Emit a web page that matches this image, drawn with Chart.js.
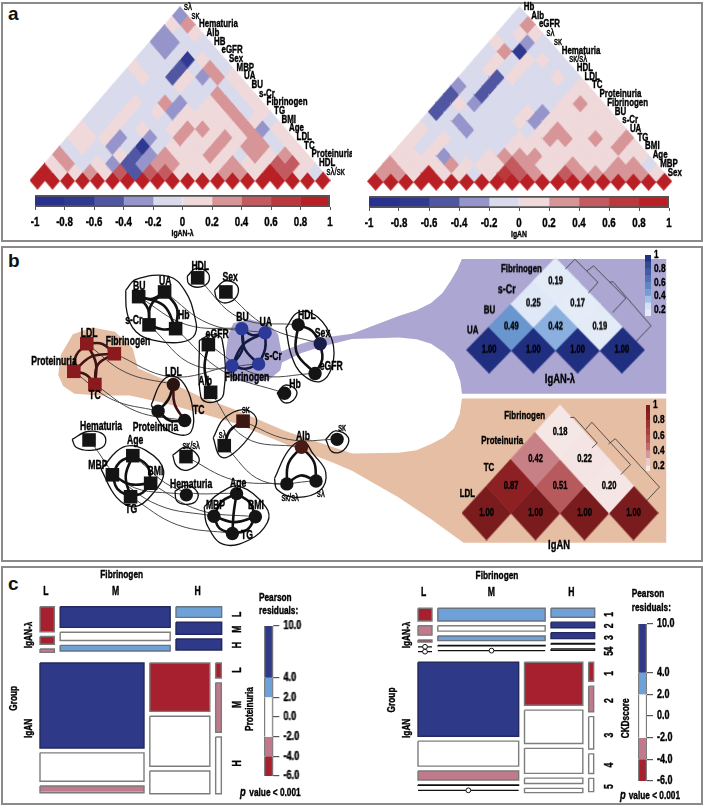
<!DOCTYPE html>
<html>
<head>
<meta charset="utf-8">
<style>
html, body { margin: 0; padding: 0; background: #fff; }
#page { position: relative; width: 705px; height: 807px; overflow: hidden; background: #fff; }
#page canvas { position: absolute; }
.frame { position: absolute; border: 2px solid #8a8a8a; box-sizing: border-box; }
.tag { position: absolute; font: bold 19px "Liberation Sans", Arial, sans-serif; color: #111; }
</style>
</head>
<body>
<div id="page">
  <div class="frame" style="left:1px;top:2px;width:702px;height:240px"></div>
  <div class="frame" style="left:1px;top:246px;width:702px;height:316px"></div>
  <div class="frame" style="left:1px;top:566px;width:702px;height:239px"></div>
  <div class="tag" style="left:8px;top:3px">a</div>
  <div class="tag" style="left:8px;top:250px">b</div>
  <div class="tag" style="left:8px;top:573px">c</div>
</div>
<script src="https://cdn.jsdelivr.net/npm/chart.js@4/dist/chart.umd.min.js"></script>
<script>
// panel a: correlation heatmaps, rows go from the diagonal (row 0) up to the apex
const corrLeftNames = ['sλ', 'sκ', 'Hematuria', 'Alb', 'HB', 'eGFR', 'Sex', 'MBP', 'UA', 'BU', 's-Cr', 'Fibrinogen', 'TG', 'BMI', 'Age', 'LDL', 'TC', 'Proteinuria', 'HDL', 'sλ/sκ'];
const corrRightNames = ['Hb', 'Alb', 'eGFR', 'sλ', 'sκ', 'Hematuria', 'sκ/sλ', 'HDL', 'LDL', 'TC', 'Proteinuria', 'Fibrinogen', 'BU', 's-Cr', 'UA', 'TG', 'BMI', 'Age', 'MBP', 'Sex'];
const corrLeftRows = [
    [1, 1, 1, 1, 1, 1, 1, 1, 1, 1, 1, 1, 1, 1, 1, 1, 1, 1, 1, 1],
    [.9, .1, .1, .3, .1, .5, -.5, .5, .5, .1, .1, .1, .3, .3, .1, .9, .5, .1, -.1],
    [.1, .3, -.1, .1, -.3, -.5, -.3, .3, .3, .1, .1, .1, .3, .1, .1, .5, .5, .1],
    [.3, -.1, -.1, -.1, .1, -.5, -.3, .3, .1, .1, .3, .1, -.1, .3, .1, .3, .1],
    [-.1, .1, -.1, -.3, -.1, -.7, -.1, .1, .1, .1, .3, .1, .3, .3, -.1, .1],
    [.1, .1, .1, -.3, -.1, -.3, -.1, .3, .1, .1, .3, .1, .3, -.1, .1],
    [.1, -.1, .1, -.1, .1, -.1, .1, .3, .3, .1, .1, .3, -.3, .1],
    [-.1, -.1, .1, -.1, -.1, -.1, .1, .1, .1, .1, .3, .1, -.1],
    [-.1, -.1, .1, -.1, .1, -.3, .1, .1, .1, .3, -.1, .1],
    [-.1, -.1, .1, -.1, .3, -.3, -.1, .1, .3, -.1, .1],
    [-.1, -.1, -.1, -.1, -.1, -.1, -.1, .3, -.1, .1],
    [-.1, -.1, -.1, -.1, .1, -.1, -.1, -.1, .1],
    [-.1, .1, -.1, -.5, .1, -.3, .3, .1],
    [.1, -.1, -.1, -.5, -.1, .3, -.1],
    [-.1, -.1, -.1, -.7, .1, -.1],
    [-.1, -.3, -.1, -.1, -.1],
    [-.3, -.3, -.1, -.1],
    [-.3, -.1, .1],
    [.1, .3],
    [-.3]
];
const corrRightRows = [
    [1, 1, 1, 1, 1, 1, 1, 1, 1, 1, 1, 1, 1, 1, 1, 1, 1, 1, 1, 1],
    [.3, .3, .1, .9, .1, .1, -.1, .1, .7, .5, .3, .1, .5, .3, .3, .3, .3, .3, .1],
    [.3, .1, .1, .1, .3, .1, .1, .1, .5, .3, .1, .1, .3, .1, .1, .3, .3, -.1],
    [.1, .1, .1, -.3, -.1, -.1, .1, .3, .3, .3, .1, .1, .1, .1, .1, .1, .1],
    [.1, -.1, .1, -.1, -.1, -.1, -.1, .1, .1, .1, .1, .1, .1, .1, .3, .1],
    [.1, -.1, .1, -.1, -.1, -.1, -.1, .1, .1, .3, .3, .1, .3, .1, .3],
    [.1, -.1, -.1, -.3, -.1, -.1, -.1, -.1, .1, .3, .1, .1, .1, .1],
    [-.1, -.1, -.3, -.1, -.1, -.1, .1, -.3, .1, .1, .1, .1, .1],
    [-.5, -.1, -.1, -.1, -.1, -.1, .1, -.3, .1, .1, .1, .1],
    [-.5, .1, -.3, -.1, -.1, -.1, -.1, -.1, .1, .3, .1],
    [-.5, -.1, -.5, -.1, -.1, -.1, -.1, -.1, .1, .1],
    [-.3, -.1, -.5, -.1, -.1, -.1, -.1, -.1, .1],
    [-.1, -.1, -.5, .1, -.1, -.1, .1, -.1],
    [-.1, .1, -.1, .1, -.1, -.1, -.1],
    [-.1, .1, -.1, .1, .1, -.1],
    [-.1, .3, -.7, -.1, -.1],
    [.1, -.1, -.3, -.1],
    [-.1, .1, .1],
    [-.1, .3],
    [-.1]
];
const corrBins = [-1, -.8, -.6, -.4, -.2, 0, .2, .4, .6, .8, 1];
const corrColors = ['#2a308e', '#30388f', '#5156a3', '#9695cb', '#d9daec', '#efd9da', '#d79598', '#c35a5f', '#bb383c', '#b92025'];
const corrTickLabels = ['-1', '-0.8', '-0.6', '-0.4', '-0.2', '0', '0.2', '0.4', '0.6', '0.8', '1'];

// panel b: co-expression networks, layout units
const netNames = ['BU', 'UA', 's-Cr', 'Hb', 'HDL', 'Sex', 'eGFR', 'Alb', 'LDL', 'Fibrinogen', 'Proteinuria', 'TC', 'sκ', 'sλ', 'Hematuria', 'Age', 'MBP', 'BMI', 'TG', 'sκ/sλ'];
const squareX = [398, 478, 430, 512, 580, 667, 613, 620, 238, 323, 198, 263, 720, 662, 245, 380, 317, 435, 373, 544];
const squareY = [150, 135, 240, 252, 90, 135, 303, 455, 300, 332, 388, 430, 547, 625, 607, 657, 718, 745, 788, 660];
const squareLabelX = [400, 480, 383, 537, 588, 680, 640, 603, 245, 365, 137, 263, 728, 657, 282, 387, 272, 450, 375, 560];
const squareLabelY = [117, 103, 228, 212, 53, 88, 270, 420, 267, 295, 358, 465, 513, 590, 565, 610, 688, 707, 830, 628];
const circleX = [716, 788, 768, 848, 890, 958, 942, 900, 505, 686, 458, 540, 1010, 945, 545, 700, 630, 758, 687, 855];
const circleY = [252, 265, 365, 458, 240, 300, 395, 630, 430, 370, 515, 545, 605, 738, 782, 778, 850, 852, 905, 747];
const circleLabelX = [718, 790, 813, 880, 917, 965, 992, 905, 505, 732, 450, 583, 1025, 960, 560, 705, 635, 760, 732, 865];
const circleLabelY = [218, 232, 340, 432, 212, 268, 373, 595, 393, 408, 567, 515, 570, 780, 748, 747, 815, 818, 912, 792];
const thinBends = [.12, .12, .2, .1, .17, .1, .15, .2, .1, .15, .1, .1, .1, .2, .18, .15, .1, .1, .1, .1];
const squareEdges = [[0, 1, .18], [0, 2, -.15], [0, 3, -.2], [1, 2, .18], [1, 3, -.18], [2, 3, .1], [6, 7, .1], [8, 9, -.18], [8, 10, .15], [8, 11, -.12], [9, 10, .15], [9, 11, .22], [10, 11, -.15], [12, 13, .15], [15, 16, .15], [15, 17, -.2], [15, 18, .14], [16, 17, .14], [16, 18, .18], [17, 18, -.14]];
const circleEdges = [[0, 1, .2], [0, 9, -.15], [0, 2, .15], [1, 9, .15], [1, 2, -.1], [9, 2, .15], [4, 5, -.15], [4, 6, .2], [5, 6, -.15], [8, 10, -.1], [8, 11, .12], [10, 11, .18], [15, 16, .15], [15, 17, -.15], [15, 18, .02], [16, 17, .14], [16, 18, .2], [17, 18, -.2], [7, 19, .15], [7, 13, -.15], [19, 13, -.25]];
const hulls = [
    [[358, 130], [390, 95], [490, 85], [540, 130], [570, 210], [572, 270], [530, 295], [450, 290], [390, 262], [362, 200]],
    [[548, 85], [575, 60], [612, 75], [612, 105], [580, 120], [552, 108]],
    [[632, 130], [665, 100], [702, 115], [700, 150], [668, 170], [640, 158]],
    [[585, 290], [620, 272], [655, 285], [660, 460], [625, 487], [590, 470]],
    [[852, 250], [890, 200], [950, 215], [995, 290], [995, 370], [960, 420], [905, 400], [870, 340]],
    [[825, 458], [850, 432], [885, 450], [875, 480], [845, 487]],
    [[437, 495], [470, 420], [510, 405], [545, 440], [565, 510], [560, 580], [520, 590], [470, 560]],
    [[628, 600], [660, 540], [720, 510], [760, 535], [750, 580], [690, 650], [650, 660]],
    [[193, 605], [240, 580], [290, 590], [292, 625], [250, 640], [205, 630]],
    [[282, 700], [350, 630], [420, 640], [475, 705], [440, 780], [385, 820], [330, 790]],
    [[503, 655], [545, 630], [585, 670], [550, 703], [515, 690]],
    [[510, 770], [545, 752], [580, 775], [572, 805], [540, 812], [515, 800]],
    [[600, 820], [650, 775], [710, 755], [790, 820], [795, 870], [740, 925], [660, 940], [610, 880]],
    [[817, 730], [860, 640], [905, 610], [935, 650], [975, 710], [955, 770], [880, 790], [825, 765]],
    [[975, 605], [1005, 578], [1045, 600], [1030, 640], [995, 645]]
];
const purpleShape = [[690, 235], [740, 222], [800, 240], [828, 270], [838, 325], [900, 300], [960, 282], [1056, 268], [1200, 212], [1255, 193], [1300, 170], [1335, 138], [1360, 100], [1380, 65], [1395, 30], [2025, 30], [2025, 460], [1395, 460], [1390, 420], [1370, 360], [1340, 328], [1300, 300], [1255, 286], [1200, 280], [1056, 285], [960, 310], [900, 330], [840, 360], [835, 385], [800, 415], [740, 425], [690, 415], [665, 395], [668, 320], [675, 270]];
const orangeShape = [[150, 400], [158, 335], [195, 270], [255, 248], [325, 262], [380, 315], [396, 378], [500, 425], [590, 470], [700, 512], [850, 578], [1056, 650], [1200, 648], [1255, 640], [1300, 620], [1340, 598], [1370, 570], [1388, 525], [1395, 475], [2025, 475], [2025, 935], [1400, 935], [1300, 860], [1200, 790], [1056, 705], [1000, 680], [850, 620], [700, 555], [600, 525], [480, 490], [370, 465], [280, 465], [200, 460], [165, 435]];

// panel b insets
const insetPurpleNames = ['UA', 'BU', 'Fibrinogen'];
const insetPurpleRows = [[1, 1, 1, 1], [.49, .42, .19], [.25, .17], [.19]];
const insetPurpleTree = [
    [[2.22, 3.52], [2.44, 3.95], [2.96, 2.94], [2.74, 2.47]],
    [[2.71, 3.44], [2.86, 3.66], [3.59, 2.25], [3.29, 1.63]],
    [[3.22, 2.94], [3.3, 2.97], [4.16, 1.05], [3.78, .29]]
];
const insetOrangeNames = ['LDL', 'TC', 'Proteinuria', 'Fibrinogen'];
const insetOrangeRows = [[1, 1, 1, 1], [.87, .51, .2], [.42, .22], [.18]];
const insetOrangeTree = [
    [[2.21, 3.54], [2.29, 3.54], [2.76, 2.59], [2.65, 2.41]],
    [[2.52, 3.09], [2.65, 3.36], [3.44, 1.79], [3.24, 1.42]],
    [[2.99, 2.56], [3.13, 2.75], [4.03, .96], [3.74, .4]]
];
const insetBlueStops = [[0, '#ffffff'], [.17, '#e4ecf7'], [.25, '#dfe8f6'], [.42, '#8bb0df'], [.49, '#6a96d0'], [1, '#1f2e7f']];
const insetRedStops = [[0, '#ffffff'], [.18, '#f5e7e6'], [.22, '#f4e4e3'], [.42, '#c78085'], [.51, '#b75a5e'], [.87, '#8d2022'], [1, '#7a1b1e']];
const insetBarSteps = [.1, .2, .3, .4, .5, .6, .7, .8, .9, 1];
const insetTicks = [.2, .4, .6, .8, 1];
const insetTickLabels = ['0.2', '0.4', '0.6', '0.8', '1'];

// panel c: mosaics, column widths then cell heights for each group
const mosaicLeftWidths = [[43, 330, 137], [312, 180, 17]];
const mosaicLeftHeights = [
    [[75, 23, 10], [62, 25, 17], [32, 36, 33]],
    [[255, 85, 20], [145, 150, 68], [45, 148, 170]]
];
const mosaicLeftResiduals = [
    [[-5, -5, -3], [8, 0, 3], [3, 8, 8]],
    [[8, 0, -3], [-5, 0, 0], [-5, -3, 0]]
];
const mosaicRightWidths = [[42, 322, 131], [302, 175, 15]];
const mosaicRightHeights = [
    [[38, 28, 6, 0, 0], [38, 16, 14, 1, 0], [27, 17, 18, 2, 4]],
    [[222, 75, 27, 2, 0], [129, 100, 75, 16, 13], [57, 77, 97, 59, 40]]
];
const mosaicRightResiduals = [
    [[-5, -3, -5, 0, 0], [3, 0, 3, 0, 0], [3, 8, 8, 0, 0]],
    [[8, 0, -3, 0, 0], [-5, 0, 0, 0, 0], [-5, -3, 0, 0, 0]]
];
const residualEdges = [10, 4, 2, -2, -4, -6];
const residualColors = ['#2e3a87', '#6ea1d8', '#ffffff', '#c07a8c', '#a6202f'];
const residualTicks = [10, 4, 2, 0, -2, -4, -6];
const residualTickLabels = ['10.0', '4.0', '2.0', '0.0', '-2.0', '-4.0', '-6.0'];

const SANS = '"Liberation Sans", Arial, sans-serif';
const SQUEEZE = .72; // the source type is a condensed grotesque
const page = document.getElementById('page');

Chart.defaults.animation = false;
Chart.defaults.responsive = false;
Chart.defaults.plugins.legend.display = false;
Chart.defaults.plugins.tooltip.enabled = false;
Chart.defaults.font.family = SANS;
Chart.defaults.color = '#111';

function addChart(left, top, width, height, config) {
    const canvas = document.createElement('canvas');
    canvas.width = width;
    canvas.height = height;
    canvas.style.left = left + 'px';
    canvas.style.top = top + 'px';
    canvas.style.width = width + 'px';
    canvas.style.height = height + 'px';
    page.appendChild(canvas);
    return new Chart(canvas.getContext('2d'), config);
}

function putText(ctx, label, px, py, g) {
    ctx.save();
    ctx.font = (g.style || 'bold') + ' ' + (g.size || 11) + 'px ' + SANS;
    ctx.textAlign = g.align || 'center';
    ctx.textBaseline = 'middle';
    ctx.fillStyle = g.color || '#000';
    ctx.strokeStyle = g.color || '#000';
    ctx.lineWidth = .4;
    ctx.lineJoin = 'round';
    ctx.translate(px, py);
    if (g.rot) ctx.rotate(g.rot);
    ctx.scale(SQUEEZE, 1);
    ctx.strokeText(label, 0, 0);
    ctx.fillText(label, 0, 0);
    ctx.restore();
}

// draws groups of real text at scale positions
function textLayer(groups) {
    return {
        id: 'textLayer',
        afterDatasetsDraw(chart) {
            const { ctx, scales } = chart;
            groups.forEach(g => {
                g.labels.forEach((label, i) => {
                    putText(ctx, label, scales.x.getPixelForValue(g.x[i]), scales.y.getPixelForValue(g.y[i]), g);
                });
            });
        }
    };
}

// condensed tick labels
function tickText(axis, labels, size, offset, title) {
    return {
        id: 'tickText',
        afterDatasetsDraw(chart) {
            const { ctx } = chart;
            const s = chart.scales[axis];
            labels.forEach((label, i) => {
                const at = s.getPixelForTick(i);
                if (axis === 'x') putText(ctx, label, at, s.top + offset, { size });
                else putText(ctx, label, s.left + offset, at, { size, align: 'left' });
            });
            if (title) putText(ctx, title, (s.left + s.right) / 2, s.top + offset + 11, { size: 9.5 });
        }
    };
}

const diamondCache = {};
function diamond(color, w, h) {
    const key = color + w + h;
    if (diamondCache[key]) return diamondCache[key];
    const c = document.createElement('canvas');
    c.width = Math.ceil(w + 1);
    c.height = Math.ceil(h + 1);
    const g = c.getContext('2d');
    g.fillStyle = color;
    g.beginPath();
    g.moveTo(c.width / 2, 0);
    g.lineTo(c.width, c.height / 2);
    g.lineTo(c.width / 2, c.height);
    g.lineTo(0, c.height / 2);
    g.closePath();
    g.fill();
    diamondCache[key] = c;
    return c;
}

function rowsToCells(rows) {
    const cells = [];
    rows.forEach((row, r) => row.forEach((v, c) => cells.push({ x: c + r / 2 + .5, y: r, v })));
    return cells;
}

function hiddenAxes(xMin, xMax, yMin, yMax, reverse) {
    return {
        x: { type: 'linear', display: false, min: xMin, max: xMax },
        y: { type: 'linear', display: false, min: yMin, max: yMax, reverse: !!reverse }
    };
}

function corrColor(v) {
    const i = Math.min(corrColors.length - 1, Math.floor((v + 1) / .2 + 1e-6));
    return corrColors[i];
}

function drawCorrHeat(left, top, width, height, plot, rows, names) {
    const n = names.length;
    const cw = plot.w / n, ch = plot.h / (n + 1) * 2;
    const greek = l => l === 'sλ' || l === 'sκ' || l === 'sλ/sκ' || l === 'sκ/sλ';
    const at = names.map((_, i) => i + (n - 1 - i) / 2 + .5 + .27);
    const rowAt = names.map((_, i) => n - i);
    const pick = (arr, keep) => arr.filter((_, i) => keep(greek(names[i])));
    addChart(left, top, width, height, {
        type: 'scatter',
        data: { datasets: [{ data: rowsToCells(rows), clip: false, pointStyle: ctx => diamond(corrColor(ctx.raw.v), cw, ch) }] },
        options: {
            layout: { padding: { left: plot.l, top: plot.t, right: width - plot.l - plot.w, bottom: height - plot.t - plot.h } },
            scales: hiddenAxes(0, n, -1, n)
        },
        plugins: [textLayer([
            { labels: pick(names, g => !g), x: pick(at, g => !g), y: pick(rowAt, g => !g), size: 11, align: 'left' },
            { labels: pick(names, g => g), x: pick(at, g => g), y: pick(rowAt, g => g), size: 11, align: 'left', style: 'normal' }
        ])]
    });
}

function drawCorrBar(left, top, width, height, padLeft, padRight, title) {
    const datasets = [{ data: [[-1, 1]], backgroundColor: 'rgba(0,0,0,0)', borderColor: '#555', borderWidth: 1.5, grouped: false, barPercentage: 1, categoryPercentage: 1 }];
    corrColors.forEach((color, i) => {
        datasets.push({ data: [[corrBins[i], corrBins[i + 1]]], backgroundColor: color, grouped: false, barPercentage: 1, categoryPercentage: 1 });
    });
    addChart(left, top, width, height, {
        type: 'bar',
        data: { labels: [''], datasets },
        options: {
            indexAxis: 'y',
            layout: { padding: { left: padLeft, right: padRight, top: 5, bottom: 0 } },
            scales: {
                y: { display: false },
                x: {
                    type: 'linear', min: -1, max: 1,
                    afterBuildTicks: s => { s.ticks = corrBins.map(value => ({ value })); },
                    afterFit: s => { s.height = 33; s.paddingLeft = 0; s.paddingRight = 0; },
                    grid: { drawOnChartArea: false, color: '#555', tickLength: 3 },
                    border: { display: false },
                    ticks: { display: false }
                }
            }
        },
        plugins: [tickText('x', corrTickLabels, 13.5, 15, title)]
    });
}

function lineDs(points, opts) {
    return Object.assign({ data: points.map(p => ({ x: p[0], y: p[1] })), showLine: true, pointRadius: 0, borderWidth: 1, borderColor: '#111', backgroundColor: 'rgba(0,0,0,0)', fill: false, tension: 0, clip: false }, opts);
}

function curve(a, b, bend) {
    const mx = (a[0] + b[0]) / 2, my = (a[1] + b[1]) / 2;
    return [a, [mx - (b[1] - a[1]) * bend, my + (b[0] - a[0]) * bend], b];
}

// painter's order: later entries end up on top
function stacked(list) {
    list.forEach((d, i) => { d.order = list.length - i; });
    return list;
}

function drawNetworks() {
    const sq = squareX.map((x, i) => [x, squareY[i]]);
    const ci = circleX.map((x, i) => [x, circleY[i]]);
    const list = [
        lineDs(purpleShape.concat([purpleShape[0]]), { fill: 'shape', backgroundColor: '#aba6d2', borderWidth: 0, borderColor: '#aba6d2' }),
        lineDs(orangeShape.concat([orangeShape[0]]), { fill: 'shape', backgroundColor: '#e6bea4', borderWidth: 0, borderColor: '#e6bea4' })
    ];
    netNames.forEach((_, i) => {
        list.push(lineDs(curve(sq[i], ci[i], thinBends[i]), { tension: .4, borderColor: '#4a4a4a', borderWidth: 1 }));
    });
    hulls.forEach(h => {
        list.push(lineDs(h.concat([h[0]]), { tension: .4, borderColor: '#111', borderWidth: 1.3 }));
    });
    squareEdges.forEach(e => {
        const dark = e[0] >= 8 && e[0] <= 11;
        list.push(lineDs(curve(sq[e[0]], sq[e[1]], e[2]), { tension: .4, borderColor: dark ? '#3f1214' : '#111', borderWidth: 2.6 }));
    });
    circleEdges.forEach(e => {
        const navy = e[0] < 2 || e[0] === 9;
        const maroon = e[0] === 8;
        list.push(lineDs(curve(ci[e[0]], ci[e[1]], e[2]), { tension: .4, borderColor: navy ? '#141a44' : maroon && e[1] !== 10 ? '#3f1214' : '#111', borderWidth: 2.6 }));
    });
    const squareColor = i => (i >= 8 && i <= 11 ? '#8b1a1f' : i === 12 ? '#3a1712' : '#141414');
    const circleColor = i => ([0, 1, 2, 9].includes(i) ? '#2b3a98' : i === 5 ? '#191d4a' : i === 7 ? '#4a1a14' : i === 8 ? '#2a1510' : '#141414');
    list.push({ data: sq.map(p => ({ x: p[0], y: p[1] })), pointStyle: 'rect', pointRadius: 9.6, pointBackgroundColor: sq.map((_, i) => squareColor(i)), pointBorderWidth: 0, showLine: false, clip: false });
    list.push({ data: ci.map(p => ({ x: p[0], y: p[1] })), pointStyle: 'circle', pointRadius: 6.7, pointBackgroundColor: ci.map((_, i) => circleColor(i)), pointBorderWidth: 0, showLine: false, clip: false });
    const thin = l => l === 'sκ' || l === 'sλ' || l === 'sκ/sλ';
    const pick = (arr, keep) => arr.filter((_, i) => keep(netNames[i]));
    const plain = l => !thin(l);
    addChart(0, 240, 705, 325, {
        type: 'scatter',
        data: { datasets: stacked(list) },
        options: { scales: hiddenAxes(0, 2115, 0, 975, true) },
        plugins: [textLayer([
            { labels: pick(netNames, plain), x: pick(squareLabelX, plain), y: pick(squareLabelY, plain), size: 12 },
            { labels: pick(netNames, plain), x: pick(circleLabelX, plain), y: pick(circleLabelY, plain), size: 12 },
            { labels: pick(netNames, thin), x: pick(squareLabelX, thin), y: pick(squareLabelY, thin), size: 10.5, style: 'normal' },
            { labels: pick(netNames, thin), x: pick(circleLabelX, thin), y: pick(circleLabelY, thin), size: 10.5, style: 'normal' }
        ])]
    });
}

function stopColor(stops, v) {
    for (let i = 1; i < stops.length; i++) {
        if (v <= stops[i][0]) {
            const [v0, c0] = stops[i - 1], [v1, c1] = stops[i];
            const t = (v - v0) / (v1 - v0);
            const ch = (c, k) => parseInt(c.slice(1 + k * 2, 3 + k * 2), 16);
            return 'rgb(' + [0, 1, 2].map(k => Math.round(ch(c0, k) + (ch(c1, k) - ch(c0, k)) * t)).join(',') + ')';
        }
    }
    return stops[stops.length - 1][1];
}

function drawInset(box, rows, tree, stops, groups) {
    const cw = box.w / 4, ch = box.h / 5 * 2;
    const cells = rowsToCells(rows);
    const trees = tree.map(t => lineDs(t, { borderColor: '#333', borderWidth: .8 }));
    const heat = { data: cells, clip: false, pointStyle: ctx => diamond(stopColor(stops, ctx.raw.v), cw, ch) };
    addChart(box.l - 30, box.t - 10, box.w + 60, box.h + 30, {
        type: 'scatter',
        data: { datasets: stacked([heat].concat(trees)) },
        options: {
            layout: { padding: { left: 30, right: 30, top: 10, bottom: 20 } },
            scales: hiddenAxes(0, 4, -1, 4)
        },
        plugins: [textLayer(groups.concat([{
            labels: cells.map(c => c.v.toFixed(2)),
            x: cells.map(c => c.x), y: cells.map(c => c.y), size: 10.5
        }]))]
    });
}

function drawInsetBar(left, top, height, width, stops, bottom) {
    const steps = insetBarSteps.filter(v => v > bottom);
    const datasets = steps.map((v, i) => ({
        data: [[i === 0 ? bottom : steps[i - 1], v]],
        backgroundColor: stopColor(stops, v - .03), grouped: false, barPercentage: 1, categoryPercentage: 1
    }));
    addChart(left, top - 6, width + 30, height + 12, {
        type: 'bar',
        data: { labels: [''], datasets },
        options: {
            layout: { padding: { top: 6, bottom: 6, left: 0, right: 0 } },
            scales: {
                x: { display: false },
                y: {
                    type: 'linear', position: 'right', min: bottom, max: 1,
                    afterBuildTicks: s => { s.ticks = insetTicks.map(value => ({ value })); },
                    afterFit: s => { s.width = 30; s.paddingTop = 0; s.paddingBottom = 0; },
                    grid: { display: false },
                    border: { display: false },
                    ticks: { display: false }
                }
            }
        },
        plugins: [tickText('y', insetTickLabels, 11.5, 3)]
    });
}

function mosaicTiles(widths, heights, residuals) {
    const tiles = [];
    let top = 0;
    widths.forEach((row, g) => {
        let left = 0, groupH = 0;
        row.forEach((w, f) => {
            let y = top;
            heights[g][f].forEach((h, p) => {
                tiles.push({ x0: left, x1: left + w, y0: y, y1: y + h, res: residuals[g][f][p] });
                y += h + 14.5;
            });
            groupH = Math.max(groupH, y - 14.5 - top);
            left += w + 17.5;
        });
        top += groupH + 32;
    });
    return tiles;
}

function residualColor(r) {
    for (let i = 0; i < residualColors.length; i++) {
        if (r <= residualEdges[i] && r >= residualEdges[i + 1]) return residualColors[i];
    }
    return '#ffffff';
}

function drawMosaic(left, top, width, height, plot, tiles, span, groups) {
    const list = tiles.map(t => {
        const color = residualColor(t.res);
        const thinTile = t.y1 - t.y0 <= 4;
        const edge = thinTile ? '#111' : color === '#ffffff' ? '#7d7d7d' : color === '#2e3a87' ? '#23285f' : color === '#6ea1d8' ? '#6b7280' : '#7a7a7a';
        return lineDs([[t.x0, t.y0], [t.x1, t.y0], [t.x1, t.y1], [t.x0, t.y1], [t.x0, t.y0]], { fill: 'shape', backgroundColor: color, borderColor: edge, borderWidth: thinTile ? 1.2 : 1.4 });
    });
    const zeros = tiles.filter(t => t.y1 === t.y0);
    list.push({
        data: zeros.map(t => ({ x: (t.x0 + t.x1) / 2, y: t.y0 })), pointStyle: 'circle', pointRadius: 2.4,
        pointBackgroundColor: '#fff', pointBorderColor: '#111', pointBorderWidth: 1, showLine: false, clip: false
    });
    addChart(left, top, width, height, {
        type: 'scatter',
        data: { datasets: stacked(list) },
        options: {
            layout: { padding: { left: plot.l, top: plot.t, right: width - plot.l - plot.w, bottom: height - plot.t - plot.h } },
            scales: hiddenAxes(0, span.x, 0, span.y, true)
        },
        plugins: [textLayer(groups)]
    });
}

function drawResidualLegend(left, top, width, height, squeeze) {
    const squash = v => (v > 4 ? 4 + (v - 4) * squeeze : v);
    const datasets = residualColors.map((color, i) => ({
        data: [[squash(residualEdges[i + 1]), squash(residualEdges[i])]],
        backgroundColor: color, borderColor: '#7d7d7d', borderWidth: { left: 1.5, right: 1.5 },
        grouped: false, barPercentage: 1, categoryPercentage: 1, borderSkipped: false
    }));
    addChart(left, top - 6, width + 40, height + 12, {
        type: 'bar',
        data: { labels: [''], datasets },
        options: {
            layout: { padding: { top: 6, bottom: 6, left: 0, right: 0 } },
            scales: {
                x: { display: false },
                y: {
                    type: 'linear', position: 'right', min: -6, max: squash(10),
                    afterBuildTicks: s => { s.ticks = residualTicks.map(t => ({ value: squash(t) })); },
                    afterFit: s => { s.width = 40; s.paddingTop = 0; s.paddingBottom = 0; },
                    grid: { drawOnChartArea: false, color: '#555', tickLength: 6, lineWidth: 1.2 },
                    border: { display: false },
                    ticks: { display: false }
                }
            }
        },
        plugins: [tickText('y', residualTickLabels, 12.5, 10)]
    });
}

const UP = -Math.PI / 2;

// panel a
drawCorrHeat(0, 0, 352, 195, { l: 30, t: 7, w: 300, h: 182 }, corrLeftRows, corrLeftNames);
drawCorrBar(0, 190, 352, 50, 35, 22, 'IgAN-λ');
drawCorrHeat(352, 0, 353, 195, { l: 16, t: 7, w: 303.3, h: 184 }, corrRightRows, corrRightNames);
drawCorrBar(352, 191, 353, 50, 17, 36, 'IgAN');

// panel b
drawNetworks();
drawInset({ l: 467.3, t: 258, w: 177, h: 114.7 }, insetPurpleRows, insetPurpleTree, insetBlueStops, [
    { labels: insetPurpleNames, x: [.13, .51, 1.23], y: [.85, 1.72, 3.5], size: 11 },
    { labels: ['s-Cr'], x: [.9], y: [2.6], size: 12.5 },
    { labels: ['IgAN-λ'], x: [2.1], y: [-1.28], size: 13 }
]);
drawInsetBar(645, 255, 61, 6, insetBlueStops, .11);
drawInset({ l: 461.7, t: 405, w: 196, h: 135 }, insetOrangeRows, insetOrangeTree, insetRedStops, [
    { labels: insetOrangeNames, x: [.11, .55, .82, 1.28], y: [.7, 1.67, 2.67, 3.6], size: 11 },
    { labels: ['IgAN'], x: [1.98], y: [-1.2], size: 13 }
]);
drawInsetBar(645.5, 405, 66, 4, insetRedStops, .134);

// panel c
drawMosaic(0, 565, 352, 242, { l: 40, t: 41.7, w: 182, h: 185 },
    mosaicTiles(mosaicLeftWidths, mosaicLeftHeights, mosaicLeftResiduals), { x: 546, y: 555 }, [
    { labels: ['Fibrinogen'], x: [245], y: [-95], size: 11.5 },
    { labels: ['L', 'M', 'H'], x: [18, 227, 473], y: [-45, -45, -45], size: 12 },
    { labels: ['Pearson', 'residuals:'], x: [706, 716], y: [-28, 13], size: 11.5 },
    { labels: ['value < 0.001'], x: [628], y: [557], size: 11.5, align: 'left' },
    { labels: ['p'], x: [600], y: [557], size: 13, style: 'italic bold', align: 'left' },
    { labels: ['IgAN-λ', 'Group', 'IgAN'], x: [-35, -78, -35], y: [85, 275, 365], size: 11.5, rot: UP },
    { labels: ['L', 'M', 'H', 'L', 'M', 'H'], x: [592, 592, 592, 592, 592, 592], y: [23, 67, 115, 190, 293, 470], size: 12, rot: UP },
    { labels: ['Proteinuria'], x: [630], y: [307], size: 11.5, rot: UP }
]);
drawResidualLegend(264.3, 626, 9.7, 150, .875);

drawMosaic(352, 565, 353, 242, { l: 66, t: 43.3, w: 176, h: 184.7 },
    mosaicTiles(mosaicRightWidths, mosaicRightHeights, mosaicRightResiduals), { x: 528, y: 554 }, [
    { labels: ['Fibrinogen'], x: [237], y: [-97], size: 11.5 },
    { labels: ['L', 'M', 'H'], x: [17, 220, 460], y: [-47, -47, -47], size: 12 },
    { labels: ['Pearson', 'residuals:'], x: [690, 700], y: [-42, -2], size: 11.5 },
    { labels: ['value < 0.001'], x: [632], y: [562], size: 11.5, align: 'left' },
    { labels: ['p'], x: [606], y: [562], size: 13, style: 'italic bold', align: 'left' },
    { labels: ['IgAN-λ', 'Group', 'IgAN'], x: [-35, -78, -35], y: [80, 275, 360], size: 11.5, rot: UP },
    { labels: ['1', '2', '3', '4', '5', '1', '2', '3', '4', '5'], x: [574, 574, 574, 574, 574, 574, 574, 574, 574, 574], y: [18, 53, 88, 122, 135, 195, 277, 380, 470, 535], size: 12, rot: UP },
    { labels: ['CKDscore'], x: [622], y: [330], size: 11.5, rot: UP }
]);
drawResidualLegend(637.7, 623.7, 9.7, 157, .75);
</script>
</body>
</html>
